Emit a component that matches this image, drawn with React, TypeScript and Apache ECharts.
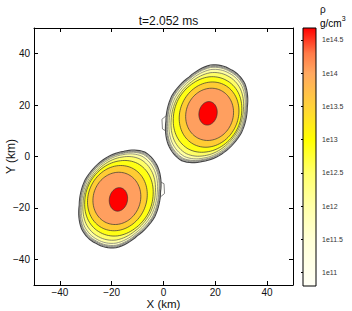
import React, { useEffect, useRef } from 'react';
import * as echarts from 'echarts';

const TITLE = 't=2.052 ms';
const X_TICKS = [-40, -20, 0, 20, 40];
const Y_TICKS = [-40, -20, 0, 20, 40];

// contour levels (log10 rho) and their fills / strokes
const LEVELS = [10.9, 11.2, 11.5, 11.8, 12.1, 12.5, 13.0, 13.5, 14.0, 14.5];
const LEVEL_FILLS = ['#FFFFF4', '#FFFFE8', '#FFFFD8', '#FFFFC4', '#FFFFA0', '#FFFF66', '#FFFF14', '#FFCC33', '#FF9F5F', '#FF0000'];
const LEVEL_STROKES = ['#444444', '#5a5a5a', '#666666', '#6a6a6a', '#707070', '#555555', '#333333', '#333333', '#333333', '#333333'];
// ellipse shape of each level (km), top-right star orientation
const SEMI_MAJOR = [19.8, 19.5, 19.2, 18.9, 18.2, 17.0, 15.2, 13.0, 10.3, 4.6];
const SEMI_MINOR = [14.9, 14.7, 14.5, 14.3, 13.8, 13.2, 12.7, 11.2, 9.1, 3.5];
const TILT_DEG = [62, 62, 62, 62, 62, 62, 62, 65, 70, 80];
const OFFSET_X = [-0.4, -0.38, -0.35, -0.3, -0.2, -0.1, 0.0, 0.6, 0.8, 0.2];
const OFFSET_Y = [-0.1, -0.1, -0.1, -0.12, -0.15, -0.2, -0.2, -0.2, -0.1, 0.3];
const WOBBLE = [1.0, 1.03, 0.985, 1.02, 0.975, 1.01, 1.03, 0.98, 1.0, 1.025, 0.98, 1.015];
const WOBBLE_AMP = [1.0, 0.95, 0.9, 0.85, 0.6, 0.4, 0.2, 0, 0, 0];
// the two neutron stars
const STAR_X = [17.0, -17.2];
const STAR_Y = [16.5, -16.4];
const STAR_SIGN = [1, -1];
// low-density tail on each star (km, relative to top-right orientation)
const TAIL_X = [-14.0, -17.6, -17.4, -13.5];
const TAIL_Y = [1.0, -2.0, -5.8, -8.0];

// colour bar
const CBAR_MIN = 10.8;
const CBAR_MAX = 14.68;
const CBAR_TICKS = [11, 11.5, 12, 12.5, 13, 13.5, 14, 14.5];
const CBAR_STOP_VALUES = [10.8, 11.5, 12.0, 12.5, 13.0, 13.5, 14.0, 14.3, 14.68];
const CBAR_STOP_COLORS = ['#FFFFF6', '#FFFFD6', '#FFFFA8', '#FFFF6A', '#FFFF00', '#FFD23A', '#FFA860', '#FF7A48', '#FF0000'];

const FONT = '"Liberation Sans", Arial, Helvetica, sans-serif';

function wobbleAt(t: number): number {
  const n = WOBBLE.length;
  const p = (t / (2 * Math.PI)) * n;
  const i = Math.floor(p) % n;
  const f = p - Math.floor(p);
  return WOBBLE[i] * (1 - f) + WOBBLE[(i + 1) % n] * f;
}

export default function App() {
  const ref = useRef<HTMLDivElement>(null);
  useEffect(() => {
    if (!ref.current) return;
    const chart = echarts.init(ref.current, null, { renderer: 'svg' });

    const contourData: number[][] = [];
    for (let s = 0; s < STAR_X.length; s++) {
      for (let l = 0; l < LEVELS.length; l++) contourData.push([s, l]);
    }

    const axisCommon = {
      type: 'value' as const,
      min: -50,
      max: 50,
      splitLine: { show: false },
      axisLine: { show: true, onZero: false, lineStyle: { color: '#000', width: 1 } },
      axisTick: { show: true, inside: true, length: 4, customValues: X_TICKS, lineStyle: { color: '#000' } },
    };
    const fmt = (v: number) => (v < 0 ? '\u2212' + Math.abs(v) : String(v));

    const option: any = {
      animation: false,
      backgroundColor: '#fff',
      title: {
        text: TITLE,
        left: 163.5,
        top: 10,
        textAlign: 'center',
        textStyle: { fontFamily: FONT, fontSize: 12, fontWeight: 'normal', color: '#111' },
      },
      grid: [
        { left: 34, right: 59, top: 28, bottom: 26, containLabel: false, outerBoundsMode: 'none' },
        { left: 303, right: 36, top: 28, bottom: 25, containLabel: false, outerBoundsMode: 'none' },
      ],
      xAxis: [
        {
          ...axisCommon,
          gridIndex: 0,
          position: 'bottom',
          name: 'X (km)',
          nameLocation: 'middle',
          nameGap: 13,
          nameMoveOverlap: false,
          nameTextStyle: { fontFamily: FONT, fontSize: 11.5, color: '#111', lineHeight: 11 },
          axisLabel: { show: true, customValues: X_TICKS, fontFamily: FONT, fontSize: 10, color: '#111', margin: 2, lineHeight: 10, formatter: fmt },
        },
        {
          ...axisCommon,
          gridIndex: 0,
          position: 'top',
          axisLabel: { show: false },
        },
        {
          type: 'value', gridIndex: 1, min: 0, max: 1, show: false,
        },
      ],
      yAxis: [
        {
          ...axisCommon,
          gridIndex: 0,
          position: 'left',
          axisTick: { ...axisCommon.axisTick, customValues: Y_TICKS },
          name: 'Y (km)',
          nameLocation: 'middle',
          nameGap: 17,
          nameMoveOverlap: false,
          nameTextStyle: { fontFamily: FONT, fontSize: 12, color: '#111' },
          axisLabel: { show: true, customValues: Y_TICKS, fontFamily: FONT, fontSize: 10, color: '#111', margin: 4, formatter: fmt },
        },
        {
          ...axisCommon,
          gridIndex: 0,
          position: 'right',
          axisTick: { ...axisCommon.axisTick, customValues: Y_TICKS },
          axisLabel: { show: false },
        },
        {
          type: 'value',
          gridIndex: 1,
          min: CBAR_MIN,
          max: CBAR_MAX,
          position: 'right',
          splitLine: { show: false },
          axisLine: { show: false },
          axisTick: { show: true, inside: true, length: 2, customValues: CBAR_TICKS, lineStyle: { color: '#000' } },
          axisLabel: { show: true, customValues: CBAR_TICKS, fontFamily: FONT, fontSize: 7, color: '#333', margin: 6, formatter: (v: number) => '1e' + v },
        },
        {
          type: 'value',
          gridIndex: 1,
          min: CBAR_MIN,
          max: CBAR_MAX,
          position: 'left',
          splitLine: { show: false },
          axisLine: { show: false },
          axisTick: { show: true, inside: true, length: 2, customValues: CBAR_TICKS, lineStyle: { color: '#000' } },
          axisLabel: { show: false },
        },
      ],
      graphic: [
        { type: 'text', left: 320, top: 4, style: { text: '\u03c1', font: '10px ' + FONT, fill: '#111' } },
        {
          type: 'text', left: 320, top: 15,
          style: {
            text: '{a|g/cm}{b|3}',
            rich: {
              a: { fontFamily: FONT, fontSize: 10, color: '#111', verticalAlign: 'bottom' },
              b: { fontFamily: FONT, fontSize: 7, color: '#111', verticalAlign: 'top', padding: [0, 0, 6, 0] },
            },
          },
        },
      ],
      series: [
        {
          type: 'custom',
          name: 'tail',
          xAxisIndex: 0,
          yAxisIndex: 0,
          clip: true,
          data: [[0], [1]],
          z: 2,
          renderItem: (_p: any, api: any) => {
            const s = api.value(0);
            const sg = STAR_SIGN[s];
            const pts = TAIL_X.map((tx, i) => api.coord([STAR_X[s] + sg * tx, STAR_Y[s] + sg * TAIL_Y[i]]));
            return {
              type: 'polygon',
              shape: { points: pts },
              style: { fill: '#FFFFFA', stroke: '#666', lineWidth: 0.8 },
            };
          },
        },
        {
          type: 'custom',
          name: 'density',
          xAxisIndex: 0,
          yAxisIndex: 0,
          clip: true,
          data: contourData,
          z: 3,
          renderItem: (_p: any, api: any) => {
            const s = api.value(0);
            const l = api.value(1);
            const sg = STAR_SIGN[s];
            const cx = STAR_X[s] + sg * OFFSET_X[l];
            const cy = STAR_Y[s] + sg * OFFSET_Y[l];
            const a = SEMI_MAJOR[l];
            const b = SEMI_MINOR[l];
            const th = (TILT_DEG[l] * Math.PI) / 180;
            const N = 96;
            const pts: number[][] = [];
            for (let i = 0; i < N; i++) {
              const t = (i / N) * 2 * Math.PI;
              const f = 1 + WOBBLE_AMP[l] * (wobbleAt(t) - 1);
              const u = a * Math.cos(t) * f;
              const v = b * Math.sin(t) * f;
              const x = cx + sg * (u * Math.cos(th) - v * Math.sin(th));
              const y = cy + sg * (u * Math.sin(th) + v * Math.cos(th));
              pts.push(api.coord([x, y]));
            }
            return {
              type: 'polygon',
              shape: { points: pts },
              style: { fill: LEVEL_FILLS[l], stroke: LEVEL_STROKES[l], lineWidth: l === 0 ? 1.2 : 0.7 },
            };
          },
        },
        {
          type: 'custom',
          name: 'colorbar',
          xAxisIndex: 2,
          yAxisIndex: 2,
          data: [[0]],
          z: 3,
          renderItem: (_p: any, api: any) => {
            const p0 = api.coord([0, CBAR_MIN]);
            const p1 = api.coord([1, CBAR_MAX]);
            const stops = CBAR_STOP_VALUES.map((v, i) => ({
              offset: (v - CBAR_MIN) / (CBAR_MAX - CBAR_MIN),
              color: CBAR_STOP_COLORS[i],
            }));
            const shape = { x: p0[0], y: p1[1], width: p1[0] - p0[0], height: p0[1] - p1[1] };
            return {
              type: 'group',
              children: [
                {
                  type: 'rect',
                  shape,
                  style: { fill: { type: 'linear', x: 0, y: 1, x2: 0, y2: 0, colorStops: stops } },
                },
                {
                  type: 'rect',
                  shape,
                  style: { fill: 'none', stroke: '#000', lineWidth: 1 },
                },
              ],
            };
          },
        },
      ],
    };
    chart.setOption(option);
    return () => chart.dispose();
  }, []);
  return <div ref={ref} style={{ width: 352, height: 311, position: 'absolute', left: 0, top: 0 }} />;
}
